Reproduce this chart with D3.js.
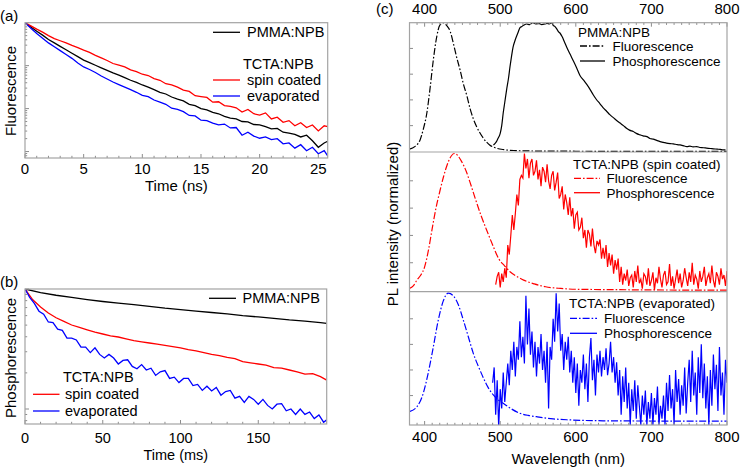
<!DOCTYPE html>
<html><head><meta charset="utf-8">
<script src="https://cdn.jsdelivr.net/npm/d3@7/dist/d3.min.js"></script>
<style>body{margin:0;background:#fff}svg{display:block}text{font-family:"Liberation Sans",Arial,sans-serif;fill:#000}</style>
</head><body>
<script>
// ---------- Panel (a): fluorescence decay, log10 of normalized intensity ----------
const aTime = [0,0.5,1,1.5,2,2.5,3,3.5,4,4.5,5,5.5,6,6.5,7,7.5,8,8.5,9,9.5,10,10.5,11,11.5,12,12.5,13,13.5,14,14.5,15,15.5,16,16.5,17,17.5,18,18.5,19,19.5,20,20.5,21,21.5,22,22.5,23,23.5,24,24.5,25,25.5,25.8];
const aPMMA = [0,-0.10,-0.20,-0.29,-0.39,-0.47,-0.55,-0.63,-0.71,-0.79,-0.87,-0.93,-0.99,-1.05,-1.11,-1.17,-1.22,-1.28,-1.34,-1.39,-1.45,-1.50,-1.56,-1.62,-1.66,-1.73,-1.78,-1.82,-1.90,-1.93,-2.00,-2.03,-2.09,-2.12,-2.18,-2.22,-2.24,-2.30,-2.31,-2.37,-2.38,-2.42,-2.47,-2.46,-2.55,-2.57,-2.60,-2.66,-2.62,-2.75,-2.90,-2.80,-2.76];
const aSpin = [0,-0.075,-0.15,-0.22,-0.30,-0.37,-0.42,-0.47,-0.53,-0.58,-0.64,-0.69,-0.76,-0.82,-0.88,-0.95,-0.99,-1.03,-1.10,-1.14,-1.20,-1.23,-1.30,-1.34,-1.42,-1.45,-1.50,-1.57,-1.60,-1.70,-1.72,-1.74,-1.85,-1.84,-1.93,-1.95,-1.98,-2.08,-2.02,-2.12,-2.15,-2.10,-2.24,-2.20,-2.32,-2.28,-2.40,-2.33,-2.44,-2.38,-2.52,-2.40,-2.42];
const aEvap = [0,-0.13,-0.25,-0.36,-0.47,-0.56,-0.65,-0.74,-0.83,-0.94,-1.03,-1.09,-1.16,-1.24,-1.31,-1.38,-1.44,-1.50,-1.56,-1.62,-1.69,-1.72,-1.80,-1.85,-1.90,-1.99,-2.02,-2.07,-2.16,-2.17,-2.27,-2.28,-2.34,-2.38,-2.36,-2.45,-2.44,-2.62,-2.55,-2.64,-2.69,-2.66,-2.72,-2.70,-2.82,-2.80,-2.92,-2.84,-2.98,-2.90,-3.05,-2.98,-3.10];
const aTicks = [0,5,10,15,20,25];

// ---------- Panel (b): phosphorescence decay, log10 of normalized intensity ----------
const bTimePMMA = [0,10,20,30,40,50,60,70,80,90,100,110,120,130,140,150,160,170,180,190,194];
const bPMMA = [0,-0.03,-0.052,-0.07,-0.088,-0.104,-0.118,-0.131,-0.145,-0.160,-0.172,-0.185,-0.196,-0.208,-0.222,-0.233,-0.245,-0.258,-0.268,-0.280,-0.286];
const bTimeSpin = [0,5,10,15,20,25,30,35,40,45,50,55,60,65,70,75,80,85,90,95,100,105,110,115,120,125,130,135,140,145,150,155,160,165,170,175,180,185,190,194];
const bSpin = [0,-0.09,-0.15,-0.20,-0.24,-0.27,-0.30,-0.32,-0.34,-0.36,-0.375,-0.39,-0.40,-0.415,-0.43,-0.44,-0.45,-0.46,-0.47,-0.48,-0.49,-0.505,-0.515,-0.53,-0.545,-0.555,-0.57,-0.58,-0.605,-0.615,-0.625,-0.635,-0.655,-0.66,-0.675,-0.69,-0.71,-0.705,-0.73,-0.76];
const bTimeEvap = [0,3,6,9,12,15,18,21,24,27,30,33,36,39,42,45,48,51,54,57,60,63,66,69,72,75,78,81,84,87,90,93,96,99,102,105,108,111,114,117,120,123,126,129,132,135,138,141,144,147,150,153,156,159,162,165,168,171,174,177,180,183,186,189,192,194];
const bEvap = [0,-0.07,-0.12,-0.185,-0.21,-0.275,-0.28,-0.335,-0.345,-0.41,-0.41,-0.425,-0.485,-0.485,-0.53,-0.49,-0.545,-0.575,-0.545,-0.575,-0.625,-0.595,-0.59,-0.645,-0.665,-0.63,-0.675,-0.66,-0.72,-0.69,-0.68,-0.745,-0.735,-0.78,-0.745,-0.745,-0.805,-0.795,-0.845,-0.81,-0.85,-0.82,-0.885,-0.855,-0.845,-0.91,-0.895,-0.945,-0.895,-0.92,-0.96,-0.92,-0.97,-1.0,-0.96,-0.955,-1.015,-1.0,-1.045,-1.0,-1.045,-1.025,-1.08,-1.05,-1.11,-1.09];
const bTicks = [0,50,100,150];

// ---------- Panel (c): PL spectra (normalized) ----------
const cTicks = [400,500,600,700,800];
const pmmaFluoWl  = [380,387,394,398,403,407,411.5,416,420,425,429,434,438,442,447,451,456,460,464,469,478,486,495,505,520,540,560,600,650,700,750,800];
const pmmaFluo    = [0.017,0.037,0.089,0.167,0.30,0.48,0.71,0.89,0.98,1.0,0.98,0.93,0.84,0.74,0.63,0.53,0.43,0.335,0.26,0.19,0.10,0.05,0.025,0.013,0.006,0.003,0.002,0.001,0,0,0,0];
const pmmaPhosWl  = [491,493,495,497,500,502,504,506,508.5,511,513,515,517,519.5,522,524,526,528.5,531,535,539,543,547,551,555,559,562,565,568,570,572.5,575,577,579,582,585,588,592,597,601,605.5,610,614.5,619,623,627,632,636,641,645,650,654,658.5,663,667,671,676,680,685,689,694,698,702.5,707,711.5,716,720,725,729,734,738,742,747,751,755,760,764,769,773,778,782,787,791,795,798];
const pmmaPhos    = [0.05,0.06,0.076,0.10,0.14,0.20,0.30,0.38,0.48,0.57,0.66,0.74,0.81,0.86,0.90,0.93,0.96,0.97,0.98,0.99,0.985,1.0,0.99,0.995,0.985,0.99,0.995,0.99,1.0,0.98,0.97,0.95,0.93,0.92,0.89,0.85,0.81,0.76,0.70,0.65,0.59,0.555,0.52,0.48,0.44,0.405,0.37,0.34,0.31,0.285,0.26,0.24,0.22,0.20,0.18,0.165,0.154,0.14,0.128,0.12,0.115,0.10,0.095,0.085,0.076,0.07,0.064,0.06,0.058,0.052,0.05,0.044,0.037,0.04,0.035,0.037,0.03,0.028,0.025,0.022,0.02,0.017,0.015,0.012,0.012];
const spinFluoWl  = [380,385,390,395,400,405,410,415,420,425,430,435,439,443,448,455,460,467,475,482,490,498,506,513,522,531,545,560,580,600,650,700,750,800];
const spinFluo    = [0.012,0.03,0.075,0.11,0.17,0.29,0.45,0.60,0.72,0.83,0.92,0.98,1.0,0.99,0.95,0.87,0.79,0.67,0.54,0.44,0.33,0.23,0.176,0.134,0.10,0.073,0.045,0.024,0.012,0.006,0.003,0.001,0,0];
const spinPhosWl  = [494,496,498,500,502,504,506,508,510,512,514,516,518,520,522,524,526,528,530,532,534,536,538,540,542,544,546,548,550,552,554,556,558,560,562,564,566,568,570,572,574,576,578,580,582,584,586,588,590,592,594,596,598,600,602,604,606,608,610,612,614,616,618,620,622,624,626,628,630,632,634,636,638,640,642,644,646,648,650,652,654,656,658,660,662,664,666,668,670,672,674,676,678,680,682,684,686,688,690,692,694,696,698,700,702,704,706,708,710,712,714,716,718,720,722,724,726,728,730,732,734,736,738,740,742,744,746,748,750,752,754,756,758,760,762,764,766,768,770,772,774,776,778,780,782,784,786,788,790,792,794,796,798,800];
const spinPhos    = [0.04,0.10,0.13,0.02,0.12,0.06,0.16,0.09,
  0.33,0.26,0.40,0.55,0.44,0.56,0.70,0.62,0.81,0.84,0.82,1.00,0.89,0.96,0.82,0.93,0.96,0.84,0.87,0.95,0.81,0.88,0.76,0.90,0.87,0.79,0.92,0.80,0.74,0.84,
  0.87,0.73,0.79,0.86,0.67,0.70,0.76,0.59,0.70,0.64,0.55,0.68,0.54,0.60,0.45,0.55,0.57,0.44,0.46,0.53,0.38,0.44,0.31,0.44,0.41,0.32,0.45,0.33,0.27,0.36,
  0.33,0.37,0.23,0.31,0.23,0.33,0.17,0.27,0.18,0.26,0.12,0.22,0.15,0.23,0.06,0.17,
  0.04,0.12,0.07,0.15,0.03,0.09,0.11,0.02,0.14,0.06,0.18,0.05,0.08,0.01,0.12,0.10,0.04,0.16,0.03,0.07,0.13,0.00,0.09,0.05,0.17,0.08,0.02,0.11,0.14,0.04,0.06,0.19,0.03,0.10,0.01,0.08,0.15,0.05,0.12,0.02,0.07,0.16,0.09,0.03,0.13,0.06,0.20,0.04,0.11,0.08,0.01,0.14,0.06,0.10,0.17,0.03,0.09,0.12,0.05,0.18,0.07,0.02,0.13,0.10,0.04,0.16,0.08,0.11,0.03,0.14];
const evapFluoWl  = [380,389.5,398.3,404.9,411.5,418.1,424.7,431.3,437.9,444.6,451.2,457.8,464.4,471,477.6,484.3,490.9,497.5,504,515,526,537,548,570,592,636,700,800];
const evapFluo    = [0.075,0.11,0.22,0.38,0.58,0.79,0.94,1.0,0.98,0.91,0.79,0.66,0.53,0.43,0.34,0.26,0.205,0.166,0.14,0.095,0.062,0.045,0.035,0.018,0.01,0.003,0.001,0];
const evapPhosWl  = [490,492,494,496,498,500,502,504,506,508,510,512,514,516,518,520,522,524,526,528,530,532,534,536,538,540,542,544,546,548,550,552,554,556,558,560,562,564,566,568,570,572,574,576,578,580,582,584,586,588,590,592,594,596,598,600,602,604,606,608,610,612,614,616,618,620,622,624,626,628,630,632,634,636,638,640,642,644,646,648,650,652,654,656,658,660,662,664,666,668,670,672,674,676,678,680,682,684,686,688,690,692,694,696,698,700,702,704,706,708,710,712,714,716,718,720,722,724,726,728,730,732,734,736,738,740,742,744,746,748,750,752,754,756,758,760,762,764,766,768,770,772,774,776,778,780,782,784,786,788,790,792,794,796,798,800];
const evapPhos    = [0.30,0.42,0.05,0.32,-0.05,0.25,0.10,0.38,0.15,0.30,0.45,0.28,0.55,0.40,0.62,0.35,0.58,0.48,0.78,0.50,0.66,0.45,0.98,0.60,0.88,0.52,0.70,0.42,0.62,0.35,0.58,0.45,0.68,0.40,0.55,0.30,0.62,0.10,0.58,0.48,0.80,0.62,1.00,0.70,0.92,0.55,0.68,0.40,0.62,0.48,0.66,0.38,0.55,0.30,0.50,0.22,0.45,0.12,0.40,0.30,0.52,0.25,0.45,0.15,0.50,0.65,0.32,0.48,0.20,0.52,0.38,0.55,0.35,0.50,0.40,0.57,0.36,0.45,0.62,0.38,0.50,0.30,0.46,0.20,0.40,0.05,0.35,0.15,0.42,0.10,0.30,-0.03,0.25,0.08,0.32,0.02,0.28,0.12,-0.03,0.20,0.05,0.24,-0.03,0.15,0.02,0.22,-0.03,0.18,0.05,0.27,-0.03,0.12,0.02,0.20,-0.03,0.30,0.08,0.36,0.10,0.25,-0.03,0.40,0.15,0.33,0.05,0.28,0.12,0.42,0.06,0.30,0.48,0.15,0.55,0.20,0.38,0.05,0.50,0.22,0.60,0.18,0.45,0.10,0.35,-0.03,0.40,0.12,0.52,0.25,0.44,0.08,0.58,0.20,0.38,0.05,0.48,0.30];

// ---------- drawing ----------
const svg = d3.select("body").append("svg").attr("width",740).attr("height",467);
const FRAME = "#a3a3a3", TICK = "#8c8c8c";
const DASHDOT = "7,2,1.6,2";
const COL = {black:"#000", red:"#ff0000", blue:"#0000ff"};

function text(x,y,s,o={}){
  const t = svg.append("text").attr("x",x).attr("y",y).text(s)
    .style("font-size",(o.size||15)+"px").attr("text-anchor",o.anchor||"start");
  if(o.rotate) t.attr("transform",`rotate(${o.rotate},${x},${y})`);
  return t;
}
function frame(x0,y0,x1,y1){
  svg.append("rect").attr("x",x0).attr("y",y0).attr("width",x1-x0).attr("height",y1-y0)
    .attr("fill","none").attr("stroke",FRAME).attr("stroke-width",1.2);
}
let clipN=0;
function clip(x0,y0,x1,y1){
  const id="clip"+(clipN++);
  svg.append("clipPath").attr("id",id).append("rect").attr("x",x0).attr("y",y0).attr("width",x1-x0).attr("height",y1-y0);
  return svg.append("g").attr("clip-path",`url(#${id})`);
}
function hticks(ys, y, x0, len){
  ys.forEach(v=>svg.append("line").attr("x1",x0).attr("x2",x0+len).attr("y1",y(v)).attr("y2",y(v))
    .attr("stroke",TICK).attr("stroke-width",1));
}
function zipXY(xs,ys){ const n=Math.min(xs.length,ys.length); const r=[]; for(let i=0;i<n;i++) r.push([xs[i],ys[i]]); return r; }
function legendLine(x0,x1,y,color,dash){
  const l = svg.append("line").attr("x1",x0).attr("x2",x1).attr("y1",y).attr("y2",y)
    .attr("stroke",color).attr("stroke-width",1.3);
  if(dash) l.attr("stroke-dasharray",dash);
}

// ===== Panel (a) =====
{
  const L=25,R=327.7,T=22.7,B=158;
  const x = d3.scaleLinear().domain([0,25.8]).range([L,R]);
  const y = d3.scaleLog().domain([Math.pow(10,-3.15),1]).range([B,T]);
  const g = clip(L,T,R,B);
  const line = d3.line().x(d=>x(d[0])).y(d=>y(Math.pow(10,d[1])));
  [[aPMMA,COL.black],[aSpin,COL.red],[aEvap,COL.blue]].forEach(([vals,c])=>{
    g.append("path").datum(zipXY(aTime,vals)).attr("d",line).attr("fill","none").attr("stroke",c).attr("stroke-width",1.3);
  });
  d3.range(0,26,1).forEach(v=>svg.append("line").attr("x1",x(v)).attr("x2",x(v)).attr("y1",B).attr("y2",B-(v%5===0?4:2.2)).attr("stroke",TICK));
  y.ticks().forEach(v=>{ const major = Math.abs(Math.log10(v)-Math.round(Math.log10(v)))<1e-9;
    svg.append("line").attr("x1",L).attr("x2",L+(major?4:2.2)).attr("y1",y(v)).attr("y2",y(v)).attr("stroke",TICK); });
  frame(L,T,R,B);
  aTicks.forEach(v=>text(x(v),173.5,String(v),{anchor:"middle"}));
  text((L+R)/2,190.5,"Time (ns)",{anchor:"middle"});
  text(15.5,91,"Fluorescence",{anchor:"middle",rotate:-90});
  text(0,20.5,"(a)");
  legendLine(213,240,32.3,COL.black);
  text(247,37.3,"PMMA:NPB",{size:14.5});
  text(243,68.5,"TCTA:NPB",{size:14.5});
  legendLine(213,240,80,COL.red);
  text(247,85,"spin coated",{size:14.5});
  legendLine(213,240,96,COL.blue);
  text(247,101,"evaporated",{size:14.5});
}

// ===== Panel (b) =====
{
  const L=25,R=326.7,T=289,B=424;
  const x = d3.scaleLinear().domain([0,194]).range([L,R]);
  const y = d3.scaleLog().domain([Math.pow(10,-1.125),1]).range([B,T]);
  const g = clip(L,T,R,B);
  const line = d3.line().x(d=>x(d[0])).y(d=>y(Math.pow(10,d[1])));
  [[bTimePMMA,bPMMA,COL.black],[bTimeSpin,bSpin,COL.red],[bTimeEvap,bEvap,COL.blue]].forEach(([t,vals,c])=>{
    g.append("path").datum(zipXY(t,vals)).attr("d",line).attr("fill","none").attr("stroke",c).attr("stroke-width",1.3);
  });
  d3.range(0,191,10).forEach(v=>svg.append("line").attr("x1",x(v)).attr("x2",x(v)).attr("y1",B).attr("y2",B-(v%50===0?4:2.2)).attr("stroke",TICK));
  y.ticks().forEach(v=>{ const major = Math.abs(Math.log10(v)-Math.round(Math.log10(v)))<1e-9;
    svg.append("line").attr("x1",L).attr("x2",L+(major?4:2.2)).attr("y1",y(v)).attr("y2",y(v)).attr("stroke",TICK); });
  frame(L,T,R,B);
  bTicks.forEach(v=>text(x(v),442.8,String(v),{anchor:"middle",size:14.5}));
  text((L+R)/2,459.5,"Time (ms)",{anchor:"middle",size:14.5});
  text(15.5,358,"Phosphorescence",{anchor:"middle",rotate:-90});
  text(0,287,"(b)");
  legendLine(209,236,298.3,COL.black);
  text(242.5,303.3,"PMMA:NPB",{size:14.5});
  text(63,381.8,"TCTA:NPB",{size:14.5});
  legendLine(33,59.5,394.3,COL.red);
  text(65,399.3,"spin coated",{size:14.5});
  legendLine(33,59.5,411,COL.blue);
  text(65,416,"evaporated",{size:14.5});
}

// ===== Panel (c) =====
{
  const L=409.5,R=727,T=22.7,B=425;
  const x = d3.scaleLinear().domain([380,800]).range([L,R]);
  const subs = [
    {t:22.7,b:152,  dom:[-0.005,1], col:COL.black, fw:pmmaFluoWl, f:pmmaFluo, pw:pmmaPhosWl, p:pmmaPhos,
     title:"PMMA:NPB", tx:578, ty:37, lx0:580, lx1:605, l1:46, l2:61, ltx:612.5},
    {t:152, b:291.7, dom:[-0.012,1], col:COL.red, fw:spinFluoWl, f:spinFluo, pw:spinPhosWl, p:spinPhos,
     title:"TCTA:NPB (spin coated)", tx:573, ty:168.5, lx0:574, lx1:600, l1:178.3, l2:192.7, ltx:606.5},
    {t:291.7, b:425, dom:[-0.03,1.0], col:COL.blue, fw:evapFluoWl, f:evapFluo, pw:evapPhosWl, p:evapPhos,
     title:"TCTA:NPB (evaporated)", tx:569, ty:308, lx0:570, lx1:597, l1:318.3, l2:333.3, ltx:604}
  ];
  subs.forEach((s,i)=>{
    const y = d3.scaleLinear().domain(s.dom).range([s.b, i===0? s.t : s.t+1.5]);
    const g = clip(L,s.t,R,s.b);
    const smooth = d3.line().curve(d3.curveMonotoneX).x(d=>x(d[0])).y(d=>y(d[1]));
    const raw = d3.line().x(d=>x(d[0])).y(d=>y(d[1]));
    g.append("path").datum(zipXY(s.fw,s.f)).attr("d",smooth).attr("fill","none").attr("stroke",s.col)
      .attr("stroke-width",1.2).attr("stroke-dasharray",DASHDOT);
    g.append("path").datum(zipXY(s.pw,s.p)).attr("d", i===0?smooth:raw).attr("fill","none").attr("stroke",s.col)
      .attr("stroke-width",1.2);
    hticks([0.2,0.4,0.6,0.8], y, L, 3.5);
    text(s.tx,s.ty,s.title,{size:13.5});
    legendLine(s.lx0,s.lx1,s.l1,s.col,DASHDOT);
    text(s.ltx,s.l1+4.8,"Fluorescence",{size:13.5});
    legendLine(s.lx0,s.lx1,s.l2,s.col);
    text(s.ltx,s.l2+4.8,"Phosphorescence",{size:13.5});
  });
  d3.range(380,801,10).forEach(v=>{
    const len = v%100===0?4:2.2;
    svg.append("line").attr("x1",x(v)).attr("x2",x(v)).attr("y1",B).attr("y2",B-len).attr("stroke",TICK);
    svg.append("line").attr("x1",x(v)).attr("x2",x(v)).attr("y1",T).attr("y2",T+len).attr("stroke",TICK);
  });
  frame(L,T,R,B);
  svg.append("line").attr("x1",L).attr("x2",R).attr("y1",152).attr("y2",152).attr("stroke",FRAME).attr("stroke-width",1.2);
  svg.append("line").attr("x1",L).attr("x2",R).attr("y1",291.7).attr("y2",291.7).attr("stroke",FRAME).attr("stroke-width",1.2);
  cTicks.forEach(v=>{ text(x(v),442,String(v),{anchor:"middle"}); text(x(v),13.8,String(v),{anchor:"middle"}); });
  text((L+R)/2,463.8,"Wavelength (nm)",{anchor:"middle"});
  text(397.5,224,"PL intensity (normalized)",{anchor:"middle",rotate:-90});
  text(376,13.8,"(c)");
}
</script>
</body></html>
